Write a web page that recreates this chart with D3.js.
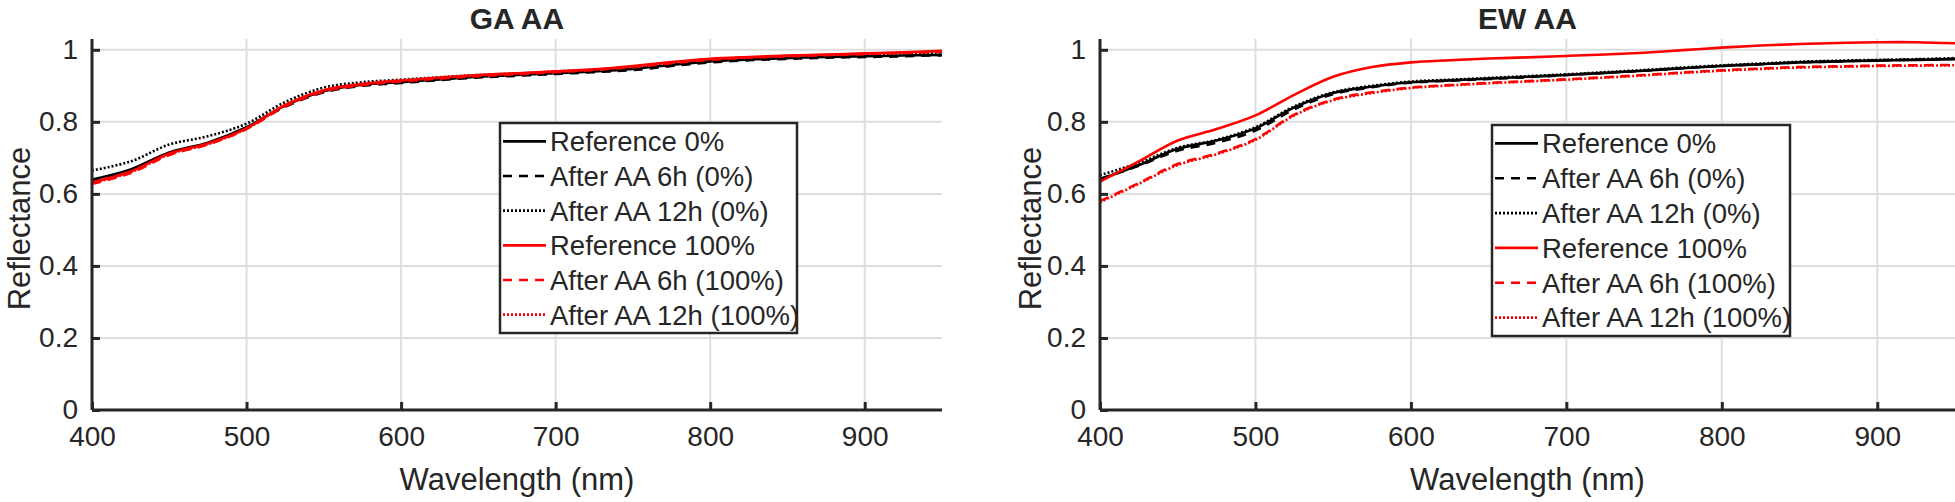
<!DOCTYPE html>
<html>
<head>
<meta charset="utf-8">
<script src="https://cdn.jsdelivr.net/npm/d3@7"></script>
<style>
    body { margin: 0; background: #fff; }
    text { font-family: "Liberation Sans", Arial, sans-serif; fill: #262626; }
</style>
</head>
<body>
<div class="chart-container"></div>
<script>
// wavelengths (nm) shared by every series
const wavelengths = [400, 425, 450, 475, 500, 525, 550, 575, 600, 625, 650, 675, 700, 725, 750, 775, 800, 825, 850, 875, 900, 925, 950];

// GA AA panel
const gaRef0   = [0.640, 0.668, 0.715, 0.742, 0.785, 0.845, 0.885, 0.903, 0.910, 0.918, 0.925, 0.930, 0.935, 0.940, 0.947, 0.958, 0.968, 0.973, 0.977, 0.980, 0.982, 0.984, 0.986];
const ga6h0    = [0.638, 0.665, 0.712, 0.740, 0.783, 0.842, 0.882, 0.900, 0.908, 0.916, 0.923, 0.928, 0.933, 0.938, 0.944, 0.955, 0.965, 0.971, 0.975, 0.978, 0.980, 0.982, 0.985];
const ga12h0   = [0.665, 0.690, 0.737, 0.760, 0.795, 0.855, 0.895, 0.910, 0.917, 0.924, 0.930, 0.934, 0.940, 0.945, 0.952, 0.963, 0.973, 0.978, 0.982, 0.985, 0.987, 0.990, 0.993];
const gaRef100 = [0.632, 0.662, 0.712, 0.740, 0.782, 0.847, 0.888, 0.905, 0.915, 0.923, 0.930, 0.935, 0.940, 0.946, 0.955, 0.966, 0.975, 0.980, 0.984, 0.987, 0.990, 0.993, 0.997];
const ga6h100  = [0.628, 0.658, 0.708, 0.737, 0.780, 0.843, 0.884, 0.902, 0.912, 0.920, 0.927, 0.932, 0.938, 0.944, 0.952, 0.963, 0.972, 0.978, 0.982, 0.985, 0.988, 0.991, 0.995];
const ga12h100 = [0.630, 0.660, 0.710, 0.738, 0.781, 0.845, 0.886, 0.904, 0.914, 0.922, 0.929, 0.934, 0.939, 0.945, 0.953, 0.965, 0.974, 0.979, 0.983, 0.986, 0.989, 0.992, 0.996];

// EW AA panel
const ewRef0   = [0.640, 0.680, 0.725, 0.748, 0.782, 0.840, 0.880, 0.898, 0.910, 0.915, 0.920, 0.925, 0.930, 0.936, 0.942, 0.949, 0.955, 0.960, 0.965, 0.968, 0.970, 0.972, 0.974];
const ew6h0    = [0.642, 0.678, 0.720, 0.742, 0.776, 0.835, 0.877, 0.896, 0.909, 0.914, 0.919, 0.924, 0.930, 0.936, 0.942, 0.949, 0.955, 0.960, 0.965, 0.968, 0.971, 0.973, 0.975];
const ew12h0   = [0.652, 0.686, 0.728, 0.750, 0.785, 0.843, 0.882, 0.900, 0.912, 0.917, 0.922, 0.927, 0.932, 0.938, 0.944, 0.951, 0.957, 0.962, 0.967, 0.970, 0.972, 0.974, 0.977];
const ewRef100 = [0.634, 0.690, 0.748, 0.780, 0.818, 0.875, 0.925, 0.952, 0.965, 0.971, 0.976, 0.979, 0.983, 0.987, 0.992, 0.999, 1.006, 1.012, 1.016, 1.019, 1.021, 1.021, 1.018];
const ew6h100  = [0.580, 0.630, 0.683, 0.712, 0.752, 0.820, 0.862, 0.882, 0.895, 0.902, 0.908, 0.913, 0.918, 0.924, 0.930, 0.937, 0.943, 0.948, 0.952, 0.954, 0.956, 0.957, 0.958];
const ew12h100 = [0.577, 0.628, 0.680, 0.710, 0.750, 0.818, 0.860, 0.880, 0.894, 0.901, 0.907, 0.912, 0.917, 0.923, 0.929, 0.936, 0.942, 0.947, 0.951, 0.953, 0.955, 0.956, 0.957];

const legendLabels = ["Reference 0%", "After AA 6h (0%)", "After AA 12h (0%)", "Reference 100%", "After AA 6h (100%)", "After AA 12h (100%)"];
const seriesColors = ["#000000", "#000000", "#000000", "#ff0000", "#ff0000", "#ff0000"];
const seriesDashes = [null, "9,7", "2,2", null, "9,7", "2,2"];
const xTicks = [400, 500, 600, 700, 800, 900];
const yTicks = [0, 0.2, 0.4, 0.6, 0.8, 1];

const width = 1955;
const height = 502;

const svg = d3.select('.chart-container').append("svg")
    .attr("width", width)
    .attr("height", height);

function drawPanel(opts) {
    const { title, series, left, right, legendX, legendY, legendW, legendH, ylabelX, id } = opts;
    const top = 39;
    const bottom = 410;

    const x = d3.scaleLinear().domain([400, 950]).range([left, right]);
    const y = d3.scaleLinear().domain([0, 1.03]).range([bottom, top]);

    const g = svg.append("g");

    // grid
    g.append("g").selectAll("line").data(xTicks).enter().append("line")
        .attr("x1", d => x(d)).attr("x2", d => x(d))
        .attr("y1", top).attr("y2", bottom)
        .attr("stroke", "#dedede").attr("stroke-width", 2);
    g.append("g").selectAll("line").data(yTicks).enter().append("line")
        .attr("x1", left).attr("x2", right)
        .attr("y1", d => y(d)).attr("y2", d => y(d))
        .attr("stroke", "#dedede").attr("stroke-width", 2);

    // curves
    g.append("clipPath").attr("id", "clip-" + id)
        .append("rect").attr("x", left).attr("y", top).attr("width", right - left).attr("height", bottom - top);

    const line = d3.line()
        .x((d, i) => x(wavelengths[i]))
        .y(d => y(d))
        .curve(d3.curveCatmullRom);

    g.append("g").attr("clip-path", "url(#clip-" + id + ")")
        .selectAll("path").data(series).enter().append("path")
        .attr("d", d => line(d))
        .attr("fill", "none")
        .attr("stroke", (d, i) => seriesColors[i])
        .attr("stroke-width", 2.6)
        .attr("stroke-dasharray", (d, i) => seriesDashes[i]);

    // axes
    const xAxis = g.append("g")
        .attr("transform", `translate(0,${bottom})`)
        .call(d3.axisBottom(x).tickValues(xTicks).tickSize(-8).tickPadding(16).tickFormat(d3.format('d')));
    const yAxis = g.append("g")
        .attr("transform", `translate(${left},0)`)
        .call(d3.axisLeft(y).tickValues(yTicks).tickSize(-8).tickPadding(14).tickFormat(d => d === 0 || d === 1 ? d : d3.format('.1f')(d)));
    yAxis.select(".domain").attr("d", `M0,${top}V${bottom}`);
    xAxis.select(".domain").attr("d", `M${left},0H${right}`);
    [xAxis, yAxis].forEach(a => {
        a.selectAll(".domain").attr("stroke", "#262626").attr("stroke-width", 3);
        a.selectAll(".tick line").attr("stroke", "#262626").attr("stroke-width", 3);
        a.selectAll("text").style("font-size", "28px").attr("fill", "#262626")
            .style("font-family", '"Liberation Sans", Arial, sans-serif');
    });

    // title + labels
    g.append("text")
        .attr("x", (left + right) / 2).attr("y", 29)
        .attr("text-anchor", "middle")
        .style("font-size", "30px").style("font-weight", "bold")
        .text(title);
    g.append("text")
        .attr("x", (left + right) / 2).attr("y", 490)
        .attr("text-anchor", "middle")
        .style("font-size", "31px")
        .text("Wavelength (nm)");
    g.append("text")
        .attr("transform", `translate(${ylabelX},${(top + bottom) / 2 + 4}) rotate(-90)`)
        .attr("text-anchor", "middle")
        .style("font-size", "31px")
        .text("Reflectance");

    // legend
    const legend = g.append("g").attr("transform", `translate(${legendX},${legendY})`);
    legend.append("rect")
        .attr("width", legendW).attr("height", legendH)
        .attr("fill", "#fff").attr("stroke", "#262626").attr("stroke-width", 2.5);
    const rowH = (legendH - 2) / 6;
    const rows = legend.selectAll("g.row").data(legendLabels).enter().append("g")
        .attr("class", "row")
        .attr("transform", (d, i) => `translate(0,${rowH * (i + 0.5) + 1})`);
    rows.append("line")
        .attr("x1", 3).attr("x2", 46)
        .attr("stroke", (d, i) => seriesColors[i])
        .attr("stroke-width", 2.6)
        .attr("stroke-dasharray", (d, i) => seriesDashes[i]);
    rows.append("text")
        .attr("x", 50).attr("dy", "0.36em")
        .style("font-size", "27.5px")
        .text(d => d);
}

drawPanel({
    id: "ga", title: "GA AA",
    series: [gaRef0, ga6h0, ga12h0, gaRef100, ga6h100, ga12h100],
    left: 92, right: 942, ylabelX: 30,
    legendX: 500, legendY: 123, legendW: 297, legendH: 210
});

drawPanel({
    id: "ew", title: "EW AA",
    series: [ewRef0, ew6h0, ew12h0, ewRef100, ew6h100, ew12h100],
    left: 1100, right: 1955, ylabelX: 1041,
    legendX: 1492, legendY: 125, legendW: 298, legendH: 211
});
</script>
</body>
</html>
